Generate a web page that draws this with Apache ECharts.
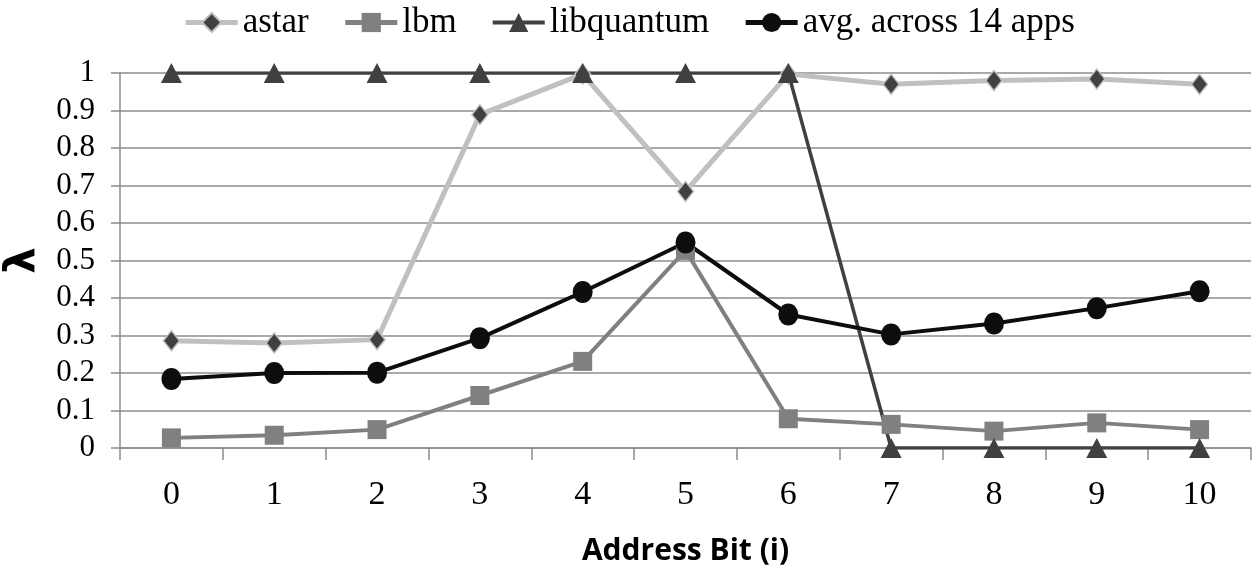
<!DOCTYPE html>
<html>
<head>
<meta charset="utf-8">
<script src="https://cdn.jsdelivr.net/npm/echarts@6/dist/echarts.min.js"></script>
<style>
  html, body { margin: 0; padding: 0; background: #fff; }
  #chart { width: 1258px; height: 577px; }
</style>
</head>
<body>
<div id="chart"></div>
<script>
const categories = ['0', '1', '2', '3', '4', '5', '6', '7', '8', '9', '10'];
const yTicks = [0, 0.1, 0.2, 0.3, 0.4, 0.5, 0.6, 0.7, 0.8, 0.9, 1];
const astar = [0.286, 0.280, 0.289, 0.889, 0.997, 0.684, 0.997, 0.970, 0.980, 0.984, 0.970];
const lbm = [0.027, 0.034, 0.049, 0.140, 0.231, 0.527, 0.078, 0.063, 0.045, 0.067, 0.049];
const libquantum = [1, 1, 1, 1, 1, 1, 1, 0, 0, 0, 0];
const avg = [0.184, 0.200, 0.201, 0.293, 0.416, 0.548, 0.356, 0.303, 0.332, 0.373, 0.418];

const serif = '"Liberation Serif", "DejaVu Serif", serif';
const gridColor = '#8c8c8c';

const chart = echarts.init(document.getElementById('chart'), null, { renderer: 'canvas' });
chart.setOption({
  animation: false,
  backgroundColor: '#ffffff',
  legend: {
    top: 0,
    left: 'center',
    itemWidth: 52,
    itemHeight: 24,
    itemGap: 34,
    textStyle: { fontFamily: serif, fontSize: 35, color: '#000' },
    data: [
      { name: 'astar', lineStyle: { width: 5, color: '#c0c0c0' } },
      { name: 'lbm', lineStyle: { width: 5, color: '#808080' } },
      { name: 'libquantum', lineStyle: { width: 4, color: '#404040' } },
      { name: 'avg. across 14 apps', lineStyle: { width: 5, color: '#0d0d0d' } }
    ]
  },
  grid: { left: 120, right: 7, top: 73, bottom: 129, containLabel: false, outerBoundsMode: 'none' },
  xAxis: {
    type: 'category',
    data: categories,
    boundaryGap: true,
    name: 'Address Bit (i)',
    nameLocation: 'middle',
    nameGap: 88,
    nameTextStyle: { fontFamily: '"Open Sans", sans-serif', fontWeight: 'bold', fontSize: 30, color: '#000' },
    axisLine: { lineStyle: { color: gridColor, width: 1.5 } },
    axisTick: { show: true, length: 12, lineStyle: { color: gridColor, width: 1.5 } },
    axisLabel: { fontFamily: serif, fontSize: 34, color: '#000', margin: 30 }
  },
  yAxis: {
    type: 'value',
    min: yTicks[0],
    max: yTicks[yTicks.length - 1],
    interval: 0.1,
    name: 'λ',
    nameLocation: 'middle',
    nameGap: 75,
    nameRotate: 90,
    nameTextStyle: { fontFamily: '"DejaVu Sans", sans-serif', fontWeight: 'bold', fontSize: 42, color: '#000' },
    axisLine: { show: true, lineStyle: { color: gridColor, width: 1.5 } },
    axisTick: { show: true, length: 9, lineStyle: { color: gridColor, width: 1.5 } },
    axisLabel: {
      fontFamily: serif, fontSize: 31, color: '#000', margin: 25,
      formatter: function (v) { return String(Math.round(v * 10) / 10); }
    },
    splitLine: { show: true, lineStyle: { color: gridColor, width: 1.5 } }
  },
  series: [
    {
      name: 'astar', type: 'line', data: astar,
      symbol: 'diamond', symbolSize: [16, 20],
      lineStyle: { color: '#c0c0c0', width: 5 },
      itemStyle: { color: '#404040', borderColor: '#c0c0c0', borderWidth: 1.5 }
    },
    {
      name: 'lbm', type: 'line', data: lbm,
      symbol: 'rect', symbolSize: [19, 19],
      lineStyle: { color: '#808080', width: 4 },
      itemStyle: { color: '#808080', borderWidth: 0 }
    },
    {
      name: 'libquantum', type: 'line', data: libquantum,
      symbol: 'triangle', symbolSize: [21, 20],
      lineStyle: { color: '#404040', width: 3.5 },
      itemStyle: { color: '#404040', borderWidth: 0 }
    },
    {
      name: 'avg. across 14 apps', type: 'line', data: avg,
      symbol: 'circle', symbolSize: [20, 22],
      lineStyle: { color: '#0d0d0d', width: 4 },
      itemStyle: { color: '#0d0d0d', borderWidth: 0 }
    }
  ]
});
</script>
</body>
</html>
